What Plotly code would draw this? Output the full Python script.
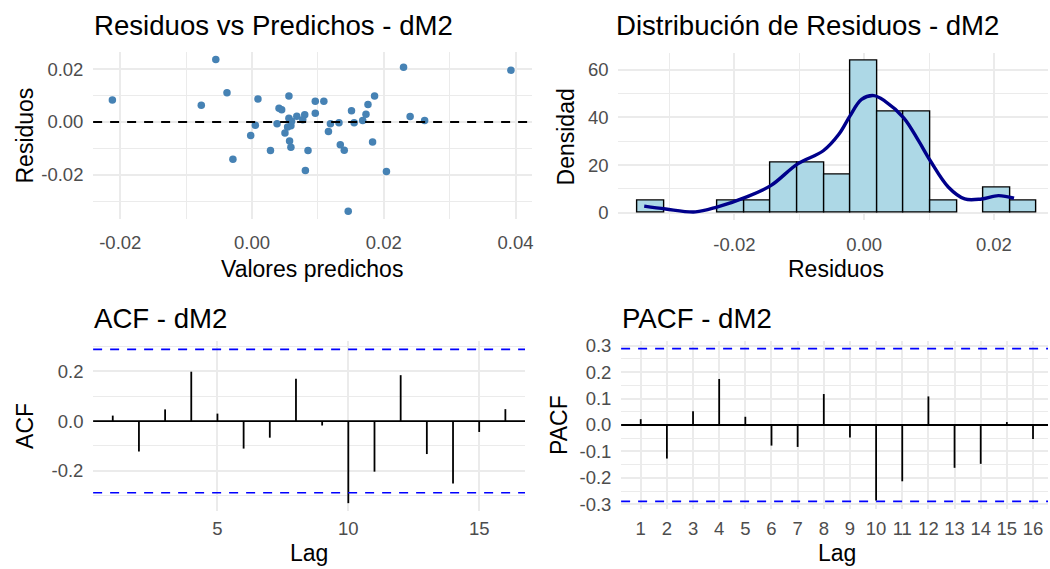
import plotly.graph_objects as go

W, H = 1050, 569

# ---------------- data ----------------
# Residuals vs fitted (scatter) - also the data of the histogram
predichos = [-0.0212, -0.0055, -0.0038, -0.0077, -0.0029, 0.0009, 0.0005, -0.0002,
             0.0028, 0.0038, 0.0041, 0.0045, 0.0056, 0.0056, 0.0059, 0.0054,
             0.0050, 0.0057, 0.0059, 0.0068, 0.0085, 0.0081, 0.0080, 0.0077,
             0.0096, 0.0109, 0.0096, 0.0119, 0.0116, 0.0132, 0.0134, 0.0140,
             0.0151, 0.0155, 0.0168, 0.0173, 0.0176, 0.0186, 0.0183, 0.0204,
             0.0230, 0.0240, 0.0262, 0.0393, 0.0146, 0.0060]
residuos = [0.0083, 0.0236, 0.0111, 0.0063, -0.0141, 0.0087, -0.0012, -0.0051,
            -0.0108, -0.0007, 0.0052, 0.0046, 0.0098, 0.0014, -0.0014, -0.0019,
            -0.0042, -0.0072, -0.0096, 0.0022, -0.0108, -0.0184, 0.0027, 0.0008,
            0.0078, 0.0078, 0.0033, -0.0007, -0.0036, -0.0003, -0.0086, -0.0107,
            0.0042, -0.0003, 0.0006, 0.0029, 0.0066, 0.0098, -0.0076, -0.0187,
            0.0207, 0.0021, 0.0006, 0.0196, -0.0338, 0.0003]

# density curve
kde_x = [-0.0339, -0.0306, -0.0260, -0.0227, -0.0183, -0.0144, -0.0103, -0.0063,
         -0.0039, -0.0022, -0.0004, 0.0015, 0.0032, 0.0061, 0.0084, 0.0102,
         0.0130, 0.0155, 0.0181, 0.0207, 0.0231]
kde_y = [2.8, 1.6, 0.4, 2.4, 6.5, 11.4, 20.4, 26.0,
         32.9, 40.5, 47.5, 49.1, 46.8, 39.8, 30.1, 21.8,
         10.7, 5.8, 5.8, 7.2, 6.1]

# ACF / PACF
lags = list(range(1, 17))
acf_vals = [0.022, -0.123, 0.047, 0.199, 0.030, -0.111, -0.067, 0.171,
            -0.018, -0.331, -0.204, 0.185, -0.133, -0.252, -0.044, 0.048]
pacf_vals = [0.022, -0.127, 0.052, 0.174, 0.031, -0.078, -0.083, 0.117,
             -0.047, -0.286, -0.213, 0.108, -0.162, -0.147, 0.011, -0.053]
ci = 0.289

# tick labels
sc_x_ticks = [-0.02, 0.0, 0.02, 0.04]
sc_x_labels = ["-0.02", "0.00", "0.02", "0.04"]
sc_y_ticks = [-0.02, 0.0, 0.02]
sc_y_labels = ["-0.02", "0.00", "0.02"]
hi_x_ticks = [-0.02, 0.0, 0.02]
hi_x_labels = ["-0.02", "0.00", "0.02"]
hi_y_ticks = [0, 20, 40, 60]
hi_y_labels = ["0", "20", "40", "60"]
acf_x_ticks = [5, 10, 15]
acf_x_labels = ["5", "10", "15"]
acf_y_ticks = [-0.2, 0.0, 0.2]
acf_y_labels = ["-0.2", "0.0", "0.2"]
pacf_x_ticks = lags
pacf_x_labels = [str(l) for l in lags]
pacf_y_ticks = [-0.3, -0.2, -0.1, 0.0, 0.1, 0.2, 0.3]
pacf_y_labels = ["-0.3", "-0.2", "-0.1", "0.0", "0.1", "0.2", "0.3"]

# ---------------- helpers ----------------
FONT = "Liberation Sans, Arial, sans-serif"
GRID = "#EBEBEB"


def xdom(a, b):
    return [a / W, min(b / W, 1.0)]


def ydom(top, bottom):
    return [1 - bottom / H, 1 - top / H]


def axis(dom, rng, tv, tt, anchor, minor=None, ticklen=5):
    d = dict(domain=dom, range=rng, tickmode="array", tickvals=tv, ticktext=tt,
             showgrid=True, gridcolor=GRID, gridwidth=1.8, zeroline=False,
             showline=False, ticks="outside", ticklen=ticklen,
             tickcolor="rgba(0,0,0,0)",
             tickfont=dict(family=FONT, size=18.5, color="#4D4D4D"),
             anchor=anchor, fixedrange=True)
    if minor is not None:
        d["minor"] = dict(showgrid=True, gridcolor=GRID, gridwidth=1.1,
                          tickmode="linear", tick0=minor[0], dtick=minor[1],
                          ticks="")
    return d


fig = go.Figure()

# scatter
fig.add_trace(go.Scatter(x=predichos, y=residuos, mode="markers",
                         marker=dict(color="#4682B4", size=7.5),
                         xaxis="x", yaxis="y", showlegend=False))

# histogram + density
fig.add_trace(go.Histogram(x=residuos, histnorm="probability density",
                           xbins=dict(start=-0.0349, end=0.0267, size=0.0041),
                           marker=dict(color="#ADD8E6",
                                       line=dict(color="black", width=1.4)),
                           xaxis="x2", yaxis="y2", showlegend=False))
fig.add_trace(go.Scatter(x=kde_x, y=kde_y, mode="lines",
                         line=dict(color="#00008B", width=3.4, shape="spline"),
                         xaxis="x2", yaxis="y2", showlegend=False))


def stems(vals):
    xs, ys = [], []
    for l, v in zip(lags, vals):
        xs += [l, l, None]
        ys += [0, v, None]
    return xs, ys


ax_, ay_ = stems(acf_vals)
fig.add_trace(go.Scatter(x=ax_, y=ay_, mode="lines",
                         line=dict(color="black", width=1.8),
                         xaxis="x3", yaxis="y3", showlegend=False))
px_, py_ = stems(pacf_vals)
fig.add_trace(go.Scatter(x=px_, y=py_, mode="lines",
                         line=dict(color="black", width=1.8),
                         xaxis="x4", yaxis="y4", showlegend=False))

shapes = []


def hline(xa, ya, y, color, dash, width):
    shapes.append(dict(type="line", xref=xa + " domain", x0=0, x1=1,
                       yref=ya, y0=y, y1=y,
                       line=dict(color=color, width=width, dash=dash)))


hline("x", "y", 0, "black", "9px,8px", 1.8)
hline("x3", "y3", 0, "black", "solid", 1.8)
hline("x3", "y3", ci, "#0000FF", "9px,8px", 1.7)
hline("x3", "y3", -ci, "#0000FF", "9px,8px", 1.7)
hline("x4", "y4", 0, "black", "solid", 1.8)
hline("x4", "y4", ci, "#0000FF", "9px,8px", 1.7)
hline("x4", "y4", -ci, "#0000FF", "9px,8px", 1.7)

# panel geometry (pixels: left, right, top, bottom)
P1 = (93.3, 532.7, 47.1, 217.6)
P2 = (619.5, 1050.0, 47.6, 219.1)
P3 = (93.3, 526.0, 342.1, 515.9)
P4 = (622.3, 1050.0, 342.1, 513.9)

fig.update_layout(
    xaxis=axis(xdom(P1[0], P1[1]), [-0.02412, 0.04245], sc_x_ticks, sc_x_labels, "y",
               minor=(0.0, 0.01), ticklen=7),
    yaxis=axis(ydom(P1[2], P1[3]), [-0.03671, 0.02643], sc_y_ticks, sc_y_labels, "x",
               minor=(0.0, 0.01)),
    xaxis2=axis(xdom(P2[0], P2[1]), [-0.03789, 0.02834], hi_x_ticks, hi_x_labels, "y2",
                minor=(0.0, 0.01), ticklen=7),
    yaxis2=axis(ydom(P2[2], P2[3]), [-3.2, 67.1], hi_y_ticks, hi_y_labels, "x2",
                minor=(0, 10)),
    xaxis3=axis(xdom(P3[0], P3[1]), [0.25, 16.75], acf_x_ticks, acf_x_labels, "y3",
                ticklen=1),
    yaxis3=axis(ydom(P3[2], P3[3]), [-0.3627, 0.3232], acf_y_ticks, acf_y_labels, "x3",
                minor=(0.0, 0.1)),
    xaxis4=axis(xdom(P4[0], P4[1]), [0.25, 16.573], pacf_x_ticks, pacf_x_labels, "y4",
                ticklen=2.5),
    yaxis4=axis(ydom(P4[2], P4[3]), [-0.318, 0.318], pacf_y_ticks, pacf_y_labels, "x4",
                minor=(0.05, 0.1)),
    shapes=shapes,
    width=W, height=H,
    margin=dict(l=0, r=0, t=0, b=0),
    paper_bgcolor="white", plot_bgcolor="white",
    showlegend=False, bargap=0,
    font=dict(family=FONT),
)

ann = []


def text(s, x, y, size, xanchor="center", angle=0, color="black"):
    ann.append(dict(text=s, x=x / W, y=1 - y / H, xref="paper", yref="paper",
                    xanchor=xanchor, yanchor="middle", showarrow=False,
                    textangle=angle,
                    font=dict(family=FONT, size=size, color=color)))


# titles
text("Residuos vs Predichos - dM2", P1[0] - 1, 19.5, 27.6, "left")
text("Distribución de Residuos - dM2", 616 - 1, 19.5, 27.6, "left")
text("ACF - dM2", P3[0] - 1, 319, 27.6, "left")
text("PACF - dM2", P4[0] - 1, 319, 27.6, "left")
# axis titles
text("Valores predichos", (P1[0] + P1[1]) / 2, 269, 23)
text("Residuos", (P2[0] + 1055) / 2, 269, 23)
text("Lag", (P3[0] + P3[1]) / 2, 559, 23)
text("Lag", (P4[0] + 1054.5) / 2, 559, 23)
text("Residuos", 25, (P1[2] + P1[3]) / 2, 23, angle=-90)
text("Densidad", 567, (P2[2] + P2[3]) / 2, 23, angle=-90)
text("ACF", 25, (P3[2] + P3[3]) / 2, 23, angle=-90)
text("PACF", 560, (P4[2] + P4[3]) / 2, 23, angle=-90)

fig.update_layout(annotations=ann)

fig.write_html("out.html")
